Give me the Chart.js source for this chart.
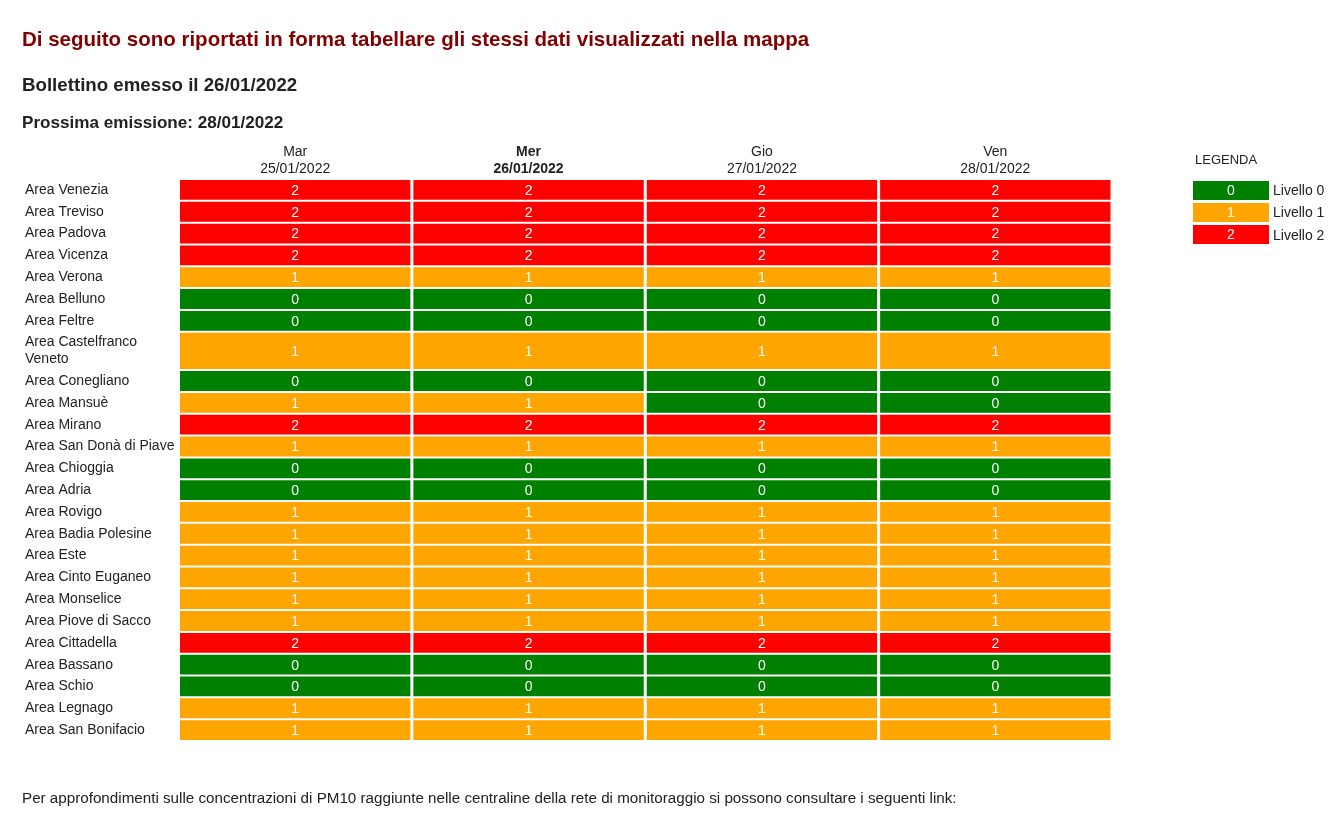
<!DOCTYPE html>
<html lang="it">
<head>
<meta charset="utf-8">
<title>Bollettino PM10</title>
<script src="https://cdn.jsdelivr.net/npm/chart.js@4/dist/chart.umd.min.js"></script>
<style>
  html, body { margin: 0; padding: 0; background: #fff; }
  body { width: 1343px; height: 813px; position: relative; overflow: hidden;
         font-family: "Liberation Sans", Arial, sans-serif; color: #222; }
  .txt { position: absolute; white-space: nowrap; line-height: 1; }
  #t1 { left: 22px; top: 29px; font-size: 20.5px; font-weight: bold; color: #800000; }
  #t2 { left: 22px; top: 76px; font-size: 18.7px; font-weight: bold; color: #222; }
  #t3 { left: 22px; top: 114px; font-size: 17.1px; font-weight: bold; color: #222; }
  #foot { left: 22px; top: 789.5px; font-size: 15.2px; color: #222; }
  #chartWrap { position: absolute; left: 0; top: 0; width: 1343px; height: 813px; }
  #legend { position: absolute; left: 1193px; top: 153px; }
  #legend .lt { font-size: 13px; line-height: 13px; margin-left: 2px; color: #222; height: 26px; }
  #legend .row { display: flex; align-items: center; height: 22.3px; }
  #legend .sw { width: 76px; height: 19px; color: #fff; font-size: 14px; text-align: center; line-height: 19px; }
  #legend .lab { margin-left: 4px; font-size: 14px; color: #222; }
</style>
</head>
<body>
<div id="chartWrap"><canvas id="c" width="1343" height="813"></canvas></div>
<div class="txt" id="t1">Di seguito sono riportati in forma tabellare gli stessi dati visualizzati nella mappa</div>
<div class="txt" id="t2">Bollettino emesso il 26/01/2022</div>
<div class="txt" id="t3">Prossima emissione: 28/01/2022</div>
<div id="legend"><div class="lt">LEGENDA</div></div>
<div class="txt" id="foot">Per approfondimenti sulle concentrazioni di PM10 raggiunte nelle centraline della rete di monitoraggio si possono consultare i seguenti link:</div>
<script>
// ---------------- DATA ----------------
const issueDate = '26/01/2022';
const days  = ['Mar', 'Mer', 'Gio', 'Ven'];
const dates = ['25/01/2022', '26/01/2022', '27/01/2022', '28/01/2022'];
const areas = [
  'Area Venezia', 'Area Treviso', 'Area Padova', 'Area Vicenza', 'Area Verona',
  'Area Belluno', 'Area Feltre', 'Area Castelfranco Veneto', 'Area Conegliano', 'Area Mansuè',
  'Area Mirano', 'Area San Donà di Piave', 'Area Chioggia', 'Area Adria', 'Area Rovigo',
  'Area Badia Polesine', 'Area Este', 'Area Cinto Euganeo', 'Area Monselice', 'Area Piove di Sacco',
  'Area Cittadella', 'Area Bassano', 'Area Schio', 'Area Legnago', 'Area San Bonifacio'
];
const levelsMar = [2,2,2,2,1,0,0,1,0,1,2,1,0,0,1,1,1,1,1,1,2,0,0,1,1];
const levelsMer = [2,2,2,2,1,0,0,1,0,1,2,1,0,0,1,1,1,1,1,1,2,0,0,1,1];
const levelsGio = [2,2,2,2,1,0,0,1,0,0,2,1,0,0,1,1,1,1,1,1,2,0,0,1,1];
const levelsVen = [2,2,2,2,1,0,0,1,0,0,2,1,0,0,1,1,1,1,1,1,2,0,0,1,1];
const levelValues = [0, 1, 2];
const levelNames  = ['Livello 0', 'Livello 1', 'Livello 2'];
const levelColors = ['#008000', '#FFA500', '#FF0000'];

// ---------------- LAYOUT HELPERS ----------------
const FONT = '"Liberation Sans", Arial, sans-serif';
const labelWidth = 153.5;
const dayLevels = [levelsMar, levelsMer, levelsGio, levelsVen];

// wrap area labels that do not fit the label column
const mctx = document.createElement('canvas').getContext('2d');
mctx.font = '14px ' + FONT;
function wrap(text) {
  const words = text.split(' ');
  const lines = [];
  let cur = '';
  words.forEach(w => {
    const test = cur ? cur + ' ' + w : w;
    if (mctx.measureText(test).width > labelWidth - 2 && cur) { lines.push(cur); cur = w; }
    else cur = test;
  });
  lines.push(cur);
  return lines;
}
const areaLines = areas.map(wrap);
const rowUnits = areaLines.map(l => 1 + (l.length - 1) * 0.76);
const totalUnits = rowUnits.reduce((a, b) => a + b, 0);
const rowCenters = [];
rowUnits.reduce((acc, h) => { rowCenters.push(acc + h / 2); return acc + h; }, 0);

// ---------------- LEGEND (HTML) ----------------
const legend = document.getElementById('legend');
levelValues.forEach((v, i) => {
  const row = document.createElement('div'); row.className = 'row';
  const sw = document.createElement('div'); sw.className = 'sw';
  sw.style.background = levelColors[i]; sw.textContent = String(v);
  const lab = document.createElement('div'); lab.className = 'lab'; lab.textContent = levelNames[i];
  row.appendChild(sw); row.appendChild(lab); legend.appendChild(row);
});

// ---------------- CHART ----------------
const datasets = areas.map((a, i) => ({
  label: a,
  data: days.map(() => rowUnits[i]),
  levels: dayLevels.map(col => col[i]),
  backgroundColor: dayLevels.map(col => levelColors[col[i]]),
  borderColor: '#ffffff',
  borderWidth: { top: 1, bottom: 1, left: 1.5, right: 1.5 },
  borderSkipped: false,
  inflateAmount: 0,
  categoryPercentage: 1,
  barPercentage: 1
}));

const cellText = {
  id: 'cellText',
  afterDatasetsDraw(chart) {
    const ctx = chart.ctx;
    ctx.save();
    ctx.font = '14px ' + FONT;
    ctx.fillStyle = '#ffffff';
    ctx.textAlign = 'center';
    ctx.textBaseline = 'middle';
    chart.data.datasets.forEach((ds, i) => {
      chart.getDatasetMeta(i).data.forEach((bar, j) => {
        const p = bar.getCenterPoint();
        ctx.fillText(String(ds.levels[j]), p.x, p.y + 1);
      });
    });
    ctx.restore();
  }
};

new Chart(document.getElementById('c'), {
  type: 'bar',
  data: { labels: days, datasets },
  options: {
    responsive: false,
    animation: false,
    events: [],
    layout: { padding: { left: 25, top: 139, right: 231, bottom: 72 } },
    plugins: { legend: { display: false }, tooltip: { enabled: false } },
    scales: {
      x: {
        position: 'top',
        stacked: true,
        grid: { display: false, drawTicks: false },
        border: { display: false },
        ticks: {
          autoSkip: false, maxRotation: 0, padding: 1.5, color: '#222',
          font: (c) => ({ family: FONT, size: 14, lineHeight: 1.22,
                           weight: dates[c.index] === issueDate ? 'bold' : 'normal' }),
          callback: (v, i) => [days[i], dates[i]]
        },
        afterFit: (s) => { s.height = 40; }
      },
      y: {
        type: 'linear',
        stacked: true,
        reverse: true,
        min: 0,
        max: totalUnits,
        grid: { display: false, drawTicks: false },
        border: { display: false },
        afterBuildTicks: (s) => { s.ticks = rowCenters.map(v => ({ value: v })); },
        ticks: {
          autoSkip: false, crossAlign: 'far', padding: 0, color: '#222',
          font: { family: FONT, size: 14, lineHeight: 1.22 },
          callback: (v, i) => areaLines[i].length > 1 ? areaLines[i] : areaLines[i][0]
        },
        afterFit: (s) => { s.width = labelWidth; }
      }
    }
  },
  plugins: [cellText]
});
</script>
</body>
</html>
